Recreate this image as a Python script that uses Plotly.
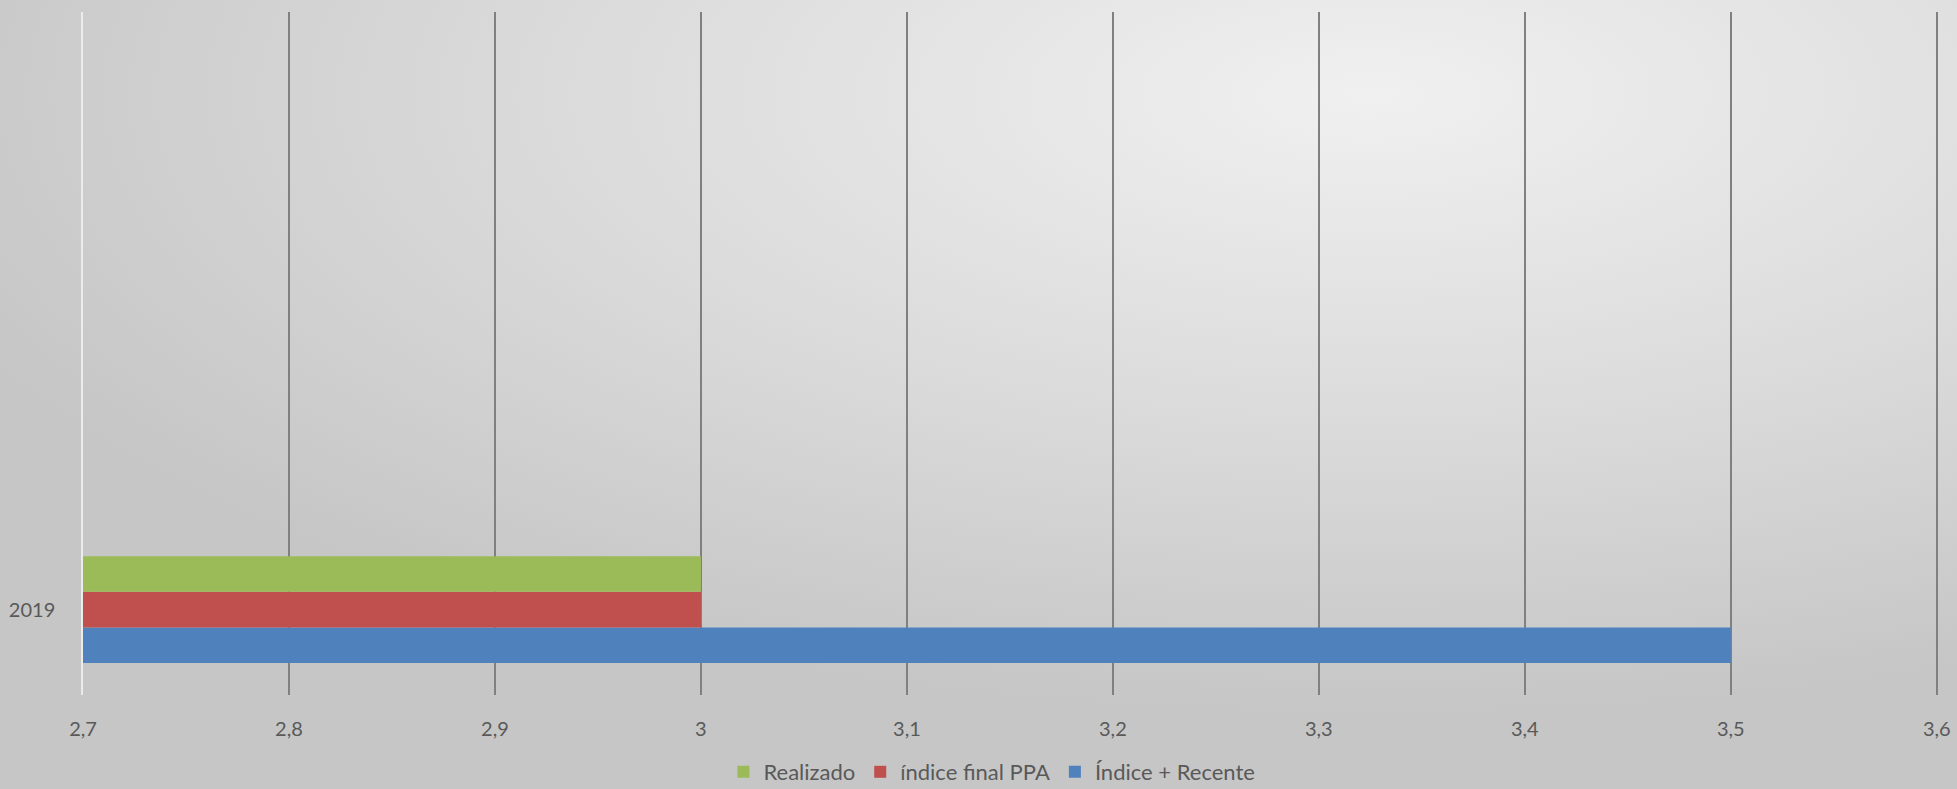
import base64
import plotly.graph_objects as go

# ---- data ----
categories = ["2019"]
series_names = ["Realizado", "índice final PPA", "Índice + Recente"]
realizado = [3.0]
indice_final_ppa = [3.0]
indice_recente = [3.5]
x_ticks = [2.7, 2.8, 2.9, 3.0, 3.1, 3.2, 3.3, 3.4, 3.5, 3.6]
x_tick_labels = ["2,7", "2,8", "2,9", "3", "3,1", "3,2", "3,3", "3,4", "3,5", "3,6"]

colors = {"Realizado": "#9BBB59", "índice final PPA": "#C0504D", "Índice + Recente": "#4F81BD"}

W, H = 1957, 789
ml, mr, mt, mb = 83, 19, 12, 94
pw, ph = W - ml - mr, H - mt - mb

fig = go.Figure()
# bottom-to-top order within the group
for name, vals in [("Índice + Recente", indice_recente),
                   ("índice final PPA", indice_final_ppa),
                   ("Realizado", realizado)]:
    fig.add_trace(go.Bar(y=categories, x=vals, name=name, orientation="h",
                         marker=dict(color=colors[name], line=dict(width=0))))

svg = f'''<svg xmlns="http://www.w3.org/2000/svg" width="{W}" height="{H}" viewBox="0 0 {W} {H}" preserveAspectRatio="none">
<defs><radialGradient id="g" cx="0.70" cy="0.12" r="0.78" gradientUnits="objectBoundingBox">
<stop offset="0" stop-color="#f0f0f0"/><stop offset="0.55" stop-color="#dadada"/><stop offset="1" stop-color="#c6c6c6"/>
</radialGradient></defs><rect width="{W}" height="{H}" fill="url(#g)"/></svg>'''
src = "data:image/svg+xml;base64," + base64.b64encode(svg.encode()).decode()

fig.update_layout(
    width=W, height=H,
    margin=dict(l=ml, r=mr, t=mt, b=mb, autoexpand=False),
    barmode="group", bargap=0.376, bargroupgap=0,
    paper_bgcolor="#d8d8d8", plot_bgcolor="rgba(0,0,0,0)",
    font=dict(family="Lato, 'Open Sans', sans-serif", size=20, color="#595959"),
    images=[dict(source=src, xref="paper", yref="paper",
                 x=-ml / pw, y=1 + mt / ph, sizex=W / pw, sizey=H / ph,
                 xanchor="left", yanchor="top", sizing="stretch", layer="below")],
    xaxis=dict(range=[2.7, 3.6006], tickvals=x_ticks, ticktext=x_tick_labels,
               showgrid=True, gridcolor="#808080", gridwidth=1.5,
               zeroline=False, showline=False, ticks="", ticklabelstandoff=20,
               tickfont=dict(size=20, color="#595959")),
    yaxis=dict(type="category", range=[-0.5, 3.5], showgrid=False, zeroline=False,
               showline=True, linecolor="#ececec", linewidth=1.5, ticks="",
               ticklabelstandoff=22, tickfont=dict(size=20, color="#595959")),
    legend=dict(orientation="h", traceorder="reversed", x=0.49, xanchor="center",
                yref="container", y=1 - 772 / H, yanchor="middle",
                font=dict(size=22, color="#595959"), bgcolor="rgba(0,0,0,0)",
                itemwidth=30),
    showlegend=True,
)

fig.write_html("out.html", config={"displayModeBar": False},
               post_script="document.body.style.margin='0';document.body.style.overflow='hidden';")
